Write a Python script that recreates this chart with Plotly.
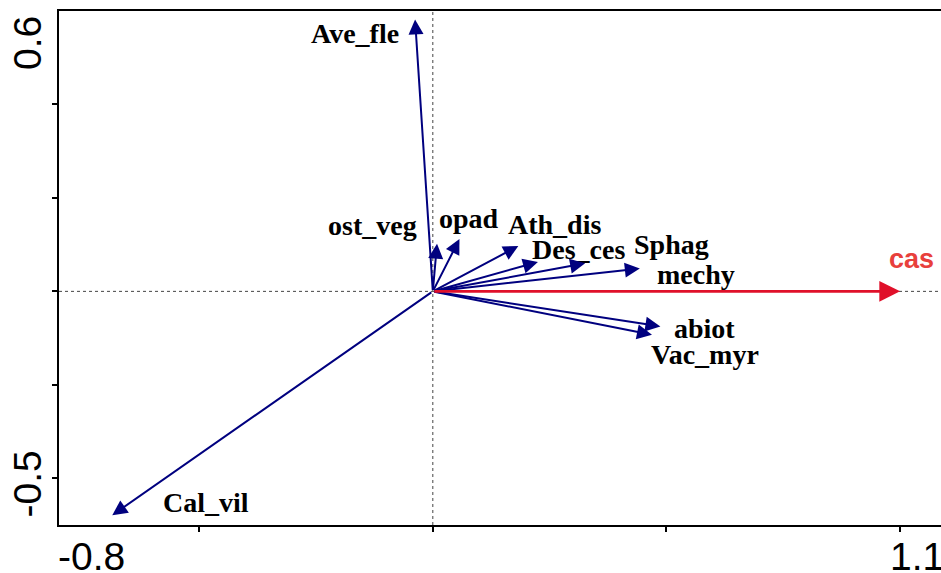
import plotly.graph_objects as go

# ---- data (biplot arrow end points) ----
species = ["Ave_fle", "ost_veg", "opad", "Ath_dis", "Des_ces", "Sphag",
           "mechy", "abiot", "Vac_myr", "Cal_vil"]
axis1 = [-0.038, 0.009, 0.057, 0.183, 0.225, 0.326, 0.443, 0.487, 0.469, -0.686]
axis2 = [0.582, 0.102, 0.112, 0.097, 0.063, 0.060, 0.049, -0.075, -0.093, -0.479]

env_names = ["cas"]
env_axis1 = [1.0]
env_axis2 = [0.0]

x_range = [-0.8, 1.1]
y_range = [-0.5, 0.6]
x_ticks = [-0.5, 0.0, 0.5, 1.0]
y_ticks = [-0.4, -0.2, 0.0, 0.2, 0.4]

# ---- label placement (pixel offsets from arrow tips) ----
label_style = {
    "Ave_fle": ("right", -14, -14),
    "ost_veg": ("right", -18, 18),
    "opad":    ("left", -22, 21),
    "Ath_dis": ("left", -12, 22),
    "Des_ces": ("left", -8, 12.5),
    "Sphag":   ("left", 47, 19),
    "mechy":   ("left", 15.5, -6),
    "abiot":   ("left", 12, -2),
    "Vac_myr": ("left", -3, -20),
    "Cal_vil": ("left", 49, 13),
    "cas":     ("left", -13, 32),
}

NAVY = "#00007F"
RED = "#E0102A"
RED_TXT = "#E8403C"

W, H = 941, 573
ML, MR, MT, MB = 59, 0, 11, 48
plot_w = W - ML - MR
plot_h = H - MT - MB
scale = plot_h / (y_range[1] - y_range[0])  # px per data unit (equal aspect)

fig = go.Figure()
# invisible trace to establish axes
fig.add_trace(go.Scatter(x=[0], y=[0], mode="markers",
                         marker=dict(opacity=0), hoverinfo="skip", showlegend=False))

shapes = [
    dict(type="line", xref="x", yref="y", x0=0, x1=0, y0=y_range[0], y1=y_range[1],
         line=dict(color="#444444", width=1, dash="dot"), layer="below"),
    dict(type="line", xref="x", yref="y", x0=x_range[0], x1=x_range[1], y0=0, y1=0,
         line=dict(color="#444444", width=1, dash="dot"), layer="below"),
]

annotations = []
def add_arrow(name, xv, yv, color, txtcolor, fontfam, size, lw, asz):
    annotations.append(dict(
        x=xv, y=yv, xref="x", yref="y", ax=0, ay=0, axref="x", ayref="y",
        text="", showarrow=True, arrowhead=2, arrowsize=asz, arrowwidth=lw,
        arrowcolor=color, standoff=0, startstandoff=0))
    anc, dx, dy = label_style[name]
    annotations.append(dict(
        x=xv, y=yv, xref="x", yref="y", text="<b>%s</b>" % name, showarrow=False,
        xanchor=anc, yanchor="middle", xshift=dx, yshift=dy,
        font=dict(family=fontfam, size=size, color=txtcolor)))

for n, a1, a2 in zip(species, axis1, axis2):
    add_arrow(n, a1, a2, NAVY, "black", "Liberation Serif", 28, 2, 1.5)
for n, a1, a2 in zip(env_names, env_axis1, env_axis2):
    add_arrow(n, a1, a2, RED, RED_TXT, "Liberation Sans", 27, 2.6, 1.6)

tick_font = dict(family="Liberation Sans", size=39, color="black")
# axis end labels
annotations += [
    dict(x=x_range[0], y=y_range[0], xref="x", yref="y", text="%g" % x_range[0],
         showarrow=False, xanchor="left", yanchor="middle", xshift=-3, yshift=-31,
         font=tick_font),
    dict(x=1, y=y_range[0], xref="paper", yref="y", text="%g" % x_range[1],
         showarrow=False, xanchor="right", yanchor="middle", xshift=5, yshift=-31,
         font=tick_font),
    dict(x=0, y=y_range[1], xref="paper", yref="y", text="%g" % y_range[1],
         showarrow=False, xanchor="center", yanchor="top", xshift=-32, yshift=-3,
         textangle=-90, font=tick_font),
    dict(x=0, y=y_range[0], xref="paper", yref="y", text="%g" % y_range[0],
         showarrow=False, xanchor="center", yanchor="bottom", xshift=-32, yshift=5,
         textangle=-90, font=tick_font),
]

fig.update_layout(
    width=W, height=H,
    margin=dict(l=ML, r=MR, t=MT, b=MB),
    plot_bgcolor="white", paper_bgcolor="white",
    showlegend=False,
    shapes=shapes, annotations=annotations,
    xaxis=dict(range=[x_range[0], x_range[0] + plot_w / scale], showgrid=False,
               zeroline=False, showline=True, linecolor="black", linewidth=2,
               mirror=True, ticks="outside", ticklen=5, tickwidth=2,
               tickcolor="black", tickvals=x_ticks, showticklabels=False),
    yaxis=dict(range=y_range, showgrid=False, zeroline=False, showline=True,
               linecolor="black", linewidth=2, mirror=False, ticks="outside",
               ticklen=5, tickwidth=2, tickcolor="black", tickvals=y_ticks,
               showticklabels=False),
)

fig.write_html("out.html",
               config={"displayModeBar": False},
               post_script="document.body.style.margin='0';"
                           "document.body.style.overflow='hidden';")
